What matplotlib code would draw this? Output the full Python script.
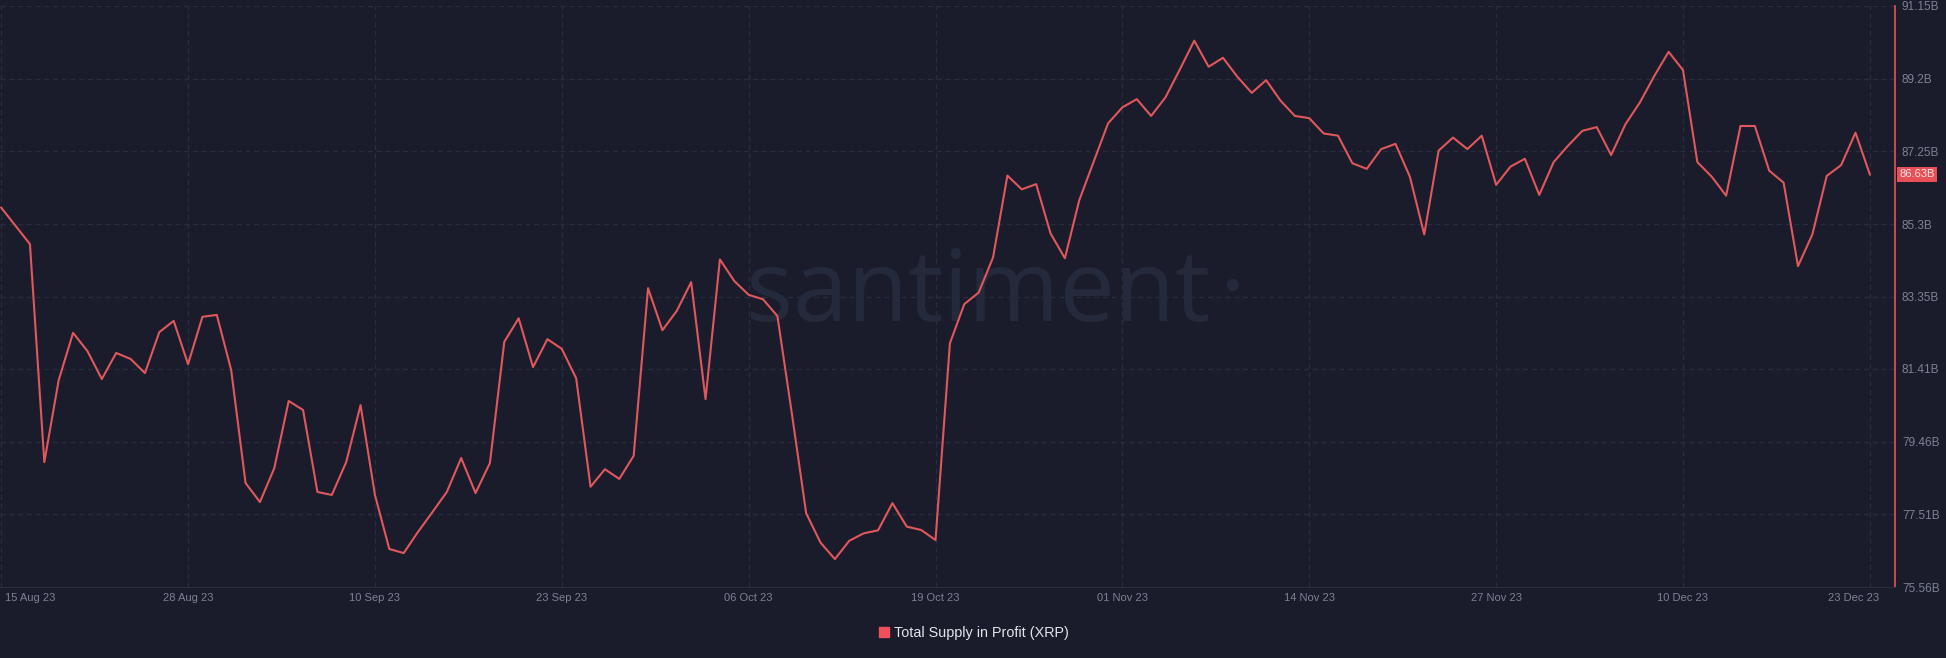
import numpy as np
import pandas as pd
import matplotlib
matplotlib.use("Agg")
import matplotlib.pyplot as plt
import matplotlib.transforms as mtransforms
from matplotlib.lines import Line2D

# daily values, 15 Aug 23 .. 23 Dec 23 (billions XRP)
start_date = "2023-08-15"
supply_b = [
    85.74, 85.25, 84.76, 78.91, 81.11, 82.38, 81.89, 81.14, 81.84, 81.68,
    81.30, 82.40, 82.70, 81.54, 82.81, 82.86, 81.38, 78.35, 77.84, 78.75,
    80.55, 80.31, 78.11, 78.03, 78.91, 80.44, 78.03, 76.58, 76.47, 77.04,
    77.57, 78.11, 79.02, 78.08, 78.89, 82.14, 82.77, 81.46, 82.21, 81.95,
    81.16, 78.25, 78.72, 78.46, 79.08, 83.58, 82.45, 82.97, 83.74, 80.60,
    84.35, 83.77, 83.40, 83.28, 82.83, 80.23, 77.54, 76.75, 76.31, 76.80,
    77.00, 77.08, 77.81, 77.18, 77.09, 76.82, 82.10, 83.15, 83.46, 84.40,
    86.60, 86.23, 86.37, 85.05, 84.38, 85.94, 86.97, 88.00, 88.43, 88.65,
    88.20, 88.70, 89.45, 90.22, 89.52, 89.76, 89.25, 88.82, 89.16, 88.61,
    88.20, 88.14, 87.73, 87.67, 86.93, 86.78, 87.31, 87.45, 86.57, 85.02,
    87.27, 87.62, 87.31, 87.67, 86.35, 86.84, 87.05, 86.08, 86.96, 87.40,
    87.80, 87.90, 87.15, 87.98, 88.56, 89.27, 89.92, 89.43, 86.96, 86.57,
    86.06, 87.93, 87.93, 86.73, 86.41, 84.17, 85.02, 86.59, 86.88, 87.75,
    86.63,
]
dates = pd.date_range(start_date, periods=len(supply_b), freq="D")

y_ticks = [75.56, 77.51, 79.46, 81.41, 83.35, 85.3, 87.25, 89.2, 91.15]
y_labels = ["75.56B", "77.51B", "79.46B", "81.41B", "83.35B", "85.3B",
            "87.25B", "89.2B", "91.15B"]
x_ticks = pd.date_range(start_date, periods=11, freq="13D")
x_labels = [d.strftime("%d %b %y") for d in x_ticks]
series_name = "Total Supply in Profit (XRP)"
last_label = "86.63B"

bg = "#1a1c2b"
line_c = "#e0575c"
grid_c = "#292d40"
tick_c = "#7c8194"
mark_c = "#242a3c"

plt.rcParams["font.family"] = ["Liberation Sans", "DejaVu Sans"]

fig = plt.figure(figsize=(19.46, 6.58), dpi=100, facecolor=bg)
ax = fig.add_axes([0, 0.1079, 0.9738, 0.8830], facecolor=bg)

ax.plot(dates, supply_b, color=line_c, lw=1.5, zorder=3)

ax.set_ylim(y_ticks[0], y_ticks[-1])
ax.set_xlim(dates[0] - pd.Timedelta(hours=2), dates[-1] + pd.Timedelta(hours=42))

ax.yaxis.tick_right()
ax.set_yticks(y_ticks)
ax.set_yticklabels(y_labels)
ax.set_xticks(x_ticks)
ax.set_xticklabels(x_labels)
ax.tick_params(axis="y", length=0, pad=5, labelsize=8.5, labelcolor=tick_c)
ax.tick_params(axis="x", length=0, pad=4, labelsize=8, labelcolor=tick_c)

xl = ax.get_xticklabels()
xl[0].set_horizontalalignment("left")
xl[0].set_transform(xl[0].get_transform() +
                    mtransforms.ScaledTranslation(4 / 100, 0, fig.dpi_scale_trans))
xl[-1].set_transform(xl[-1].get_transform() +
                     mtransforms.ScaledTranslation(-16 / 100, 0, fig.dpi_scale_trans))

ax.grid(True, color=grid_c, lw=0.9, dashes=(4, 3))
ax.set_axisbelow(True)

for s in ["top", "left"]:
    ax.spines[s].set_visible(False)
ax.spines["bottom"].set_color(grid_c)
ax.spines["right"].set_color(line_c)
ax.spines["right"].set_linewidth(1.2)

# watermark
ax.text(0.516, 0.458, "santiment", transform=ax.transAxes, ha="center",
        va="baseline", fontsize=71, family="Open Sans", color=mark_c, zorder=1)
ax.text(0.6500, 0.5146, "\u2022", transform=ax.transAxes, ha="center",
        va="center", fontsize=32, color=mark_c, zorder=1)

# last value badge
tr = mtransforms.blended_transform_factory(ax.transAxes, ax.transData)
ax.annotate(last_label, xy=(1, supply_b[-1]), xycoords=tr, xytext=(3, 0),
            textcoords="offset points", ha="left", va="center", fontsize=8,
            color="#fbe3e4",
            bbox=dict(boxstyle="square,pad=0.2", fc="#e84f57", ec="none"),
            annotation_clip=False)

handle = Line2D([], [], marker="s", ls="", color="#f0505a", markersize=7)
fig.legend([handle], [series_name], loc="center", bbox_to_anchor=(0.5, 0.038),
           frameon=False, labelcolor="#e2e4ea", fontsize=10.4,
           handletextpad=0.2, handlelength=1.0)

fig.savefig("out.png", dpi=100, facecolor=bg)
